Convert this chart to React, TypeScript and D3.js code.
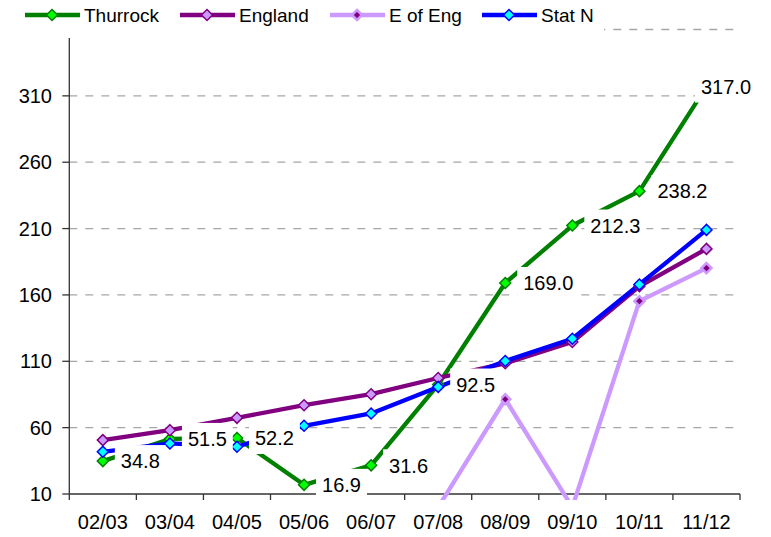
import React from 'react';
import * as d3 from 'd3';

const categories = ['02/03', '03/04', '04/05', '05/06', '06/07', '07/08', '08/09', '09/10', '10/11', '11/12'];
const thurrock = [34.8, 51.5, 52.2, 16.9, 31.6, 92.5, 169.0, 212.3, 238.2, 317.0];
const england = [50.6, 58.1, 67.4, 76.9, 85.2, 97.4, 108.5, 124.5, 166.5, 194.7];
const eOfEng = [0, 0, 0, 0, 0, 0, 81.4, 0, 155.3, 180.2];
const statN = [41.8, 48.1, 45.6, 61.4, 70.7, 90.7, 110.2, 127.0, 167.9, 209.0];
const yTicks = [10, 60, 110, 160, 210, 260, 310, 360];

const series = [
  { name: 'Thurrock', values: thurrock, line: '#008000', fill: '#00ff00', stroke: '#008000', sw: 1.5, r: 5.5 },
  { name: 'England', values: england, line: '#800080', fill: '#cc99ff', stroke: '#800080', sw: 1.5, r: 5.5 },
  { name: 'E of Eng', values: eOfEng, line: '#cc99ff', fill: '#800080', stroke: '#cc99ff', sw: 2.5, r: 5 },
  { name: 'Stat N', values: statN, line: '#0000ff', fill: '#00ffff', stroke: '#0000ff', sw: 1.5, r: 5.5 },
];

const W = 771;
const H = 537;
const left = 69.3;
const right = 740;
const top = 29.5;
const bottom = 494;
const font = '"Liberation Sans", Arial, sans-serif';

// rough Arial widths for the value labels
const textWidth = (s: string, size: number) =>
  s.split('').reduce((w, c) => w + (c === '.' ? 0.278 : 0.556), 0) * size;

const diamond = (cx: number, cy: number, r: number) =>
  `M${cx},${cy - r}L${cx + r},${cy}L${cx},${cy + r}L${cx - r},${cy}Z`;

const App = () => {
  const x = d3.scalePoint<string>().domain(categories).range([left, right]).padding(0.5);
  const band = d3.scaleBand<string>().domain(categories).range([left, right]);
  const y = d3.scaleLinear().domain([10, 360]).range([bottom, top]);

  const line = d3.line<number>()
    .x((d, i) => x(categories[i]) as number)
    .y(d => y(d));

  const tickXs = [...categories.map(c => band(c) as number), right];

  const labels = thurrock.map((v, i) => {
    const px = x(categories[i]) as number;
    const py = y(v);
    const txt = v.toFixed(1);
    const tw = textWidth(txt, 20);
    let bx = px + 12;
    let bw = tw + 12;
    if (bx + bw > 757) bx -= bx + bw - 757;
    return { txt, bx, bw, py, tx: bx + 6 };
  });

  return (
    <svg width={W} height={H} style={{ position: 'absolute', left: 0, top: 0, background: '#fff' }}>
      <defs>
        <clipPath id="plot">
          <rect x={left} y={top - 10} width={right - left + 10} height={bottom - top + 16} />
        </clipPath>
      </defs>

      {/* grid */}
      {yTicks.slice(1).map(t => (
        <line key={t} x1={left} x2={right} y1={y(t)} y2={y(t)}
          stroke="#a6a6a6" strokeWidth={1.3} strokeDasharray="8,8" />
      ))}

      {/* axes */}
      <line x1={left} x2={left} y1={top} y2={bottom} stroke="#333" strokeWidth={1.3} />
      <line x1={left} x2={right} y1={bottom} y2={bottom} stroke="#333" strokeWidth={1.3} />
      {yTicks.map(t => (
        <g key={t}>
          <line x1={left - 7} x2={left} y1={y(t)} y2={y(t)} stroke="#333" strokeWidth={1.3} />
          <text x={52} y={y(t)} dy="0.36em" textAnchor="end" fontSize={20} fontFamily={font} fill="#000">{t}</text>
        </g>
      ))}
      {tickXs.map((tx, i) => (
        <line key={i} x1={tx} x2={tx} y1={bottom} y2={bottom + 6} stroke="#333" strokeWidth={1.3} />
      ))}
      {categories.map(c => (
        <text key={c} x={x(c)} y={529} textAnchor="middle" fontSize={20} fontFamily={font} fill="#000">{c}</text>
      ))}

      {/* series lines, then markers */}
      <g clipPath="url(#plot)">
        {series.map(s => (
          <path key={s.name} d={line(s.values) as string} fill="none" stroke={s.line} strokeWidth={4.3} strokeLinejoin="round" />
        ))}
        {series.map(s => (
          <g key={s.name}>
            {s.values.map((v, i) => (
              <path key={i} d={diamond(x(categories[i]) as number, y(v), s.r)} fill={s.fill} stroke={s.stroke} strokeWidth={s.sw} />
            ))}
          </g>
        ))}
      </g>

      {/* Thurrock value labels with white boxes */}
      {labels.map((l, i) => (
        <g key={i}>
          <rect x={l.bx} y={l.py - 16} width={l.bw} height={32} fill="#fff" />
          <text x={l.tx} y={l.py} dy="0.36em" fontSize={20} fontFamily={font} fill="#000">{l.txt}</text>
        </g>
      ))}

      {/* legend */}
      <rect x={0} y={0} width={604} height={38} fill="#fff" />
      {series.map((s, i) => {
        const lx = [25, 180, 330, 482][i];
        return (
          <g key={s.name}>
            <line x1={lx} x2={lx + 55} y1={15} y2={15} stroke={s.line} strokeWidth={4.3} />
            <path d={diamond(lx + 27, 15, s.r)} fill={s.fill} stroke={s.stroke} strokeWidth={s.sw} />
            <text x={lx + 59} y={22} fontSize={19} fontFamily={font} fill="#000">{s.name}</text>
          </g>
        );
      })}
    </svg>
  );
};

export default App;
